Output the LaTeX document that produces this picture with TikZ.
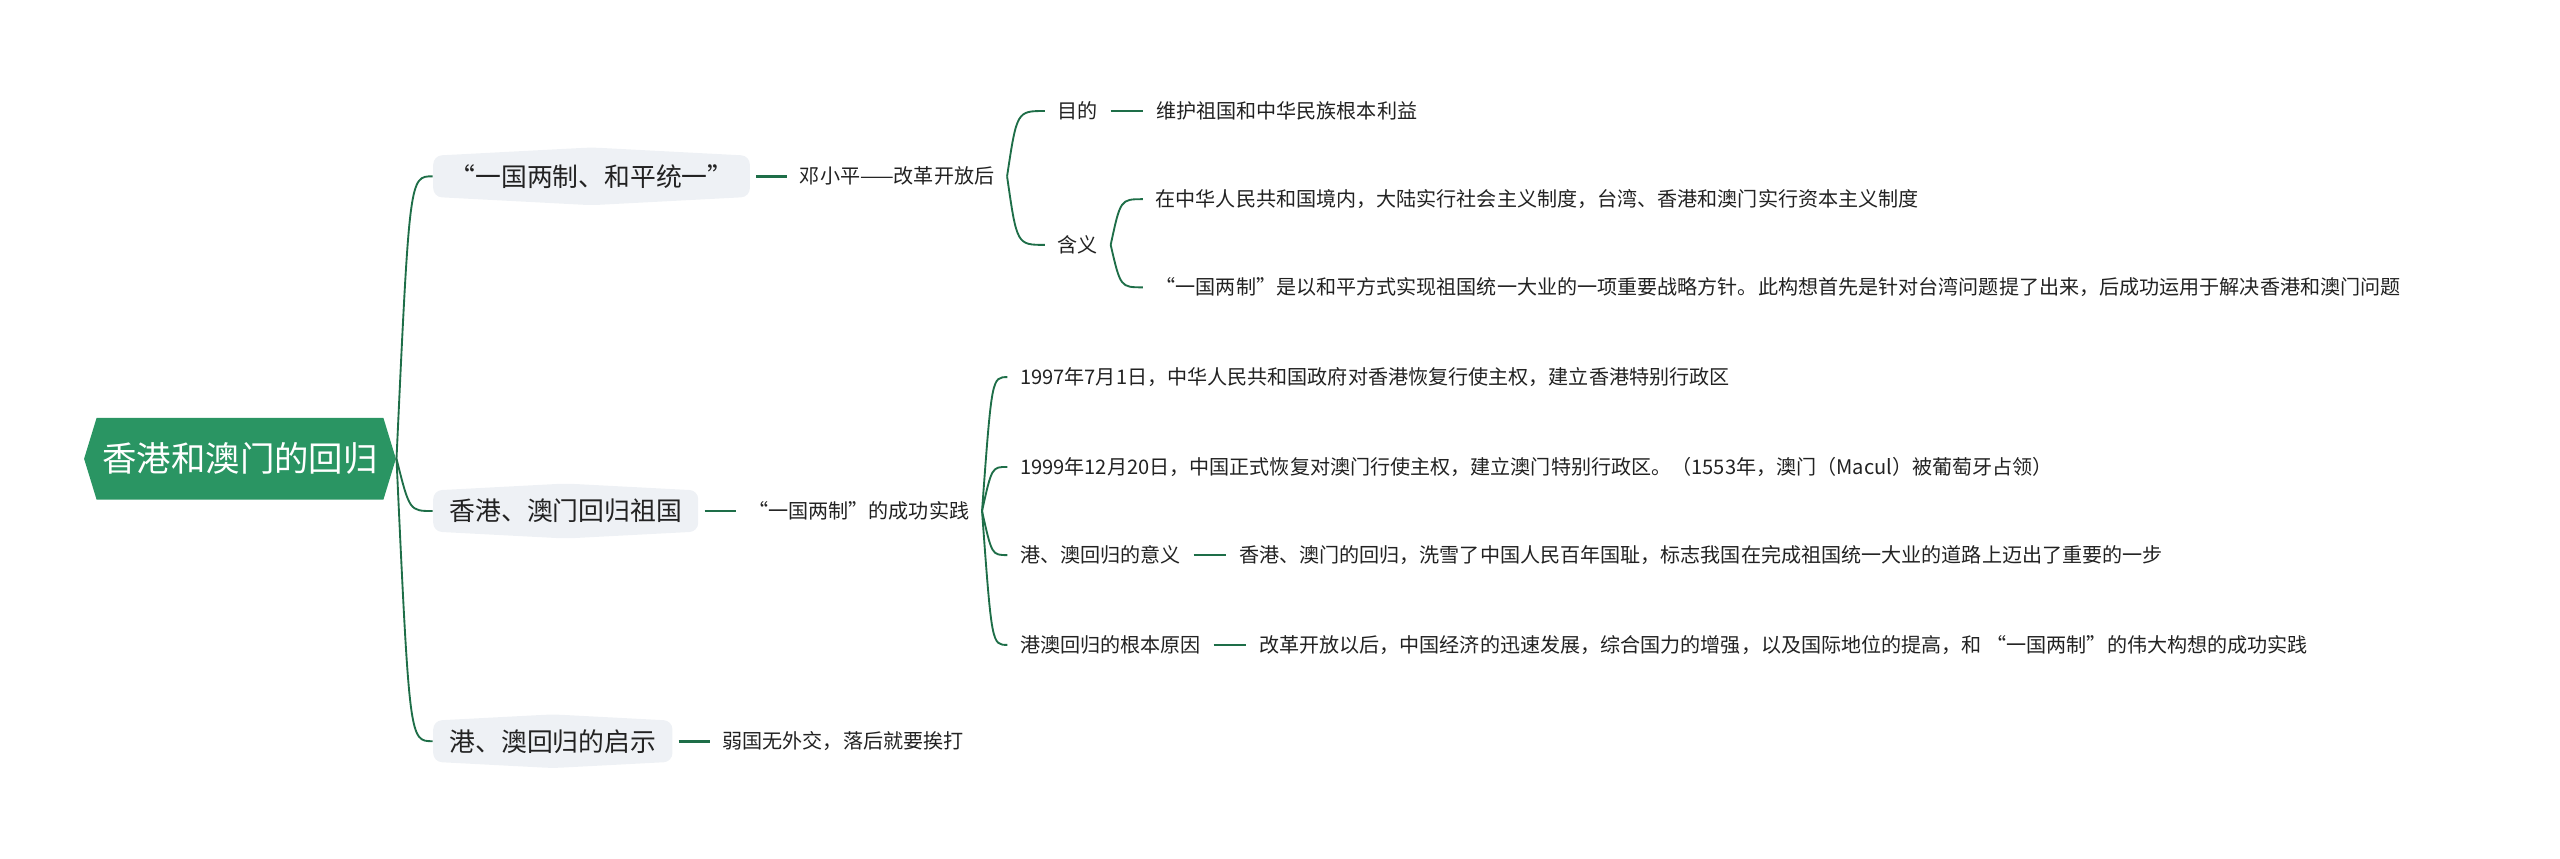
\documentclass[tikz,border=0pt]{standalone}
\usepackage{fontspec}
\setmainfont{Noto Sans CJK SC}
\usepackage{xcolor}
\usetikzlibrary{calc,positioning,shapes.symbols}
\definecolor{rootc}{HTML}{2A9563}
\definecolor{linec}{HTML}{1E6E48}
\definecolor{boxbg}{HTML}{EEF1F5}
\definecolor{txtc}{HTML}{222222}
\tikzset{
  ln/.style={linec,line width=0.65pt},
  sl/.style={linec,line width=0.9pt},
  rootnd/.style={signal,signal to=west and east,signal pointer angle=146,fill=rootc,text=white,minimum height=1cm,minimum width=3.74cm,inner xsep=2pt,font=\fontsize{12}{14}\selectfont},
  topic/.style={signal,signal to=north and south,signal pointer angle=174,rounded corners=3pt,fill=boxbg,text=txtc,minimum height=0.64cm,inner xsep=0.2cm,inner ysep=3pt,font=\fontsize{9}{11}\selectfont},
  leaf/.style={text=txtc,inner xsep=0.15cm,inner ysep=2pt,font=\fontsize{7}{8.5}\selectfont}
}
\begin{document}
\begin{tikzpicture}[x=0.02cm,y=-0.02cm]
\useasboundingbox (0,0) rectangle (1568,526);
% root and main topics
\node[rootnd] (root) at (147,281) {香港和澳门的回归};
\node[topic,anchor=west] (tpeace) at (265,108) {“一国两制、和平统一”};
\node[topic,anchor=west] (tback) at (265,313) {香港、澳门回归祖国};
\node[topic,anchor=west] (tlesson) at (265,454) {港、澳回归的启示};
\foreach \c in {tpeace,tback,tlesson}
  \draw[ln] (root.east) .. controls ($(root.east |- \c.west)+(8,0)$) .. (\c.west);
% one country two systems
\node[leaf,right=0.45cm of tpeace] (deng) {邓小平——改革开放后};
\node[leaf,anchor=west] (aim) at (640,68) {目的};
\node[leaf,right=0.4cm of aim] (aimtxt) {维护祖国和中华民族根本利益};
\node[leaf,anchor=west] (mean) at (640,150) {含义};
\node[leaf,anchor=west] (meanA) at (700,122) {在中华人民共和国境内，大陆实行社会主义制度，台湾、香港和澳门实行资本主义制度};
\node[leaf,anchor=west] (meanB) at (700,176) {“一国两制”是以和平方式实现祖国统一大业的一项重要战略方针。此构想首先是针对台湾问题提了出来，后成功运用于解决香港和澳门问题};
\draw[sl,shorten <=2pt] (tpeace.east) -- (deng.west);
\draw[sl] (aim.east) -- (aimtxt.west);
\foreach \c in {aim,mean}
  \draw[ln] (deng.east) .. controls ($(deng.east |- \c.west)+(6,0)$) .. (\c.west);
\foreach \c in {meanA,meanB}
  \draw[ln] (mean.east) .. controls ($(mean.east |- \c.west)+(6,0)$) .. (\c.west);
% return of hong kong and macao
\node[leaf,right=0.45cm of tback] (prac) {“一国两制”的成功实践};
\node[leaf,anchor=west] (hk) at (617,231) {1997年7月1日，中华人民共和国政府对香港恢复行使主权，建立香港特别行政区};
\node[leaf,anchor=west] (mo) at (617,286) {1999年12月20日，中国正式恢复对澳门行使主权，建立澳门特别行政区。（1553年，澳门（Macul）被葡萄牙占领）};
\node[leaf,anchor=west] (sig) at (617,340) {港、澳回归的意义};
\node[leaf,right=0.4cm of sig] (sigtxt) {香港、澳门的回归，洗雪了中国人民百年国耻，标志我国在完成祖国统一大业的道路上迈出了重要的一步};
\node[leaf,anchor=west] (cause) at (617,395) {港澳回归的根本原因};
\node[leaf,right=0.4cm of cause] (causetxt) {改革开放以后，中国经济的迅速发展，综合国力的增强，以及国际地位的提高，和 “一国两制”的伟大构想的成功实践};
\draw[sl,shorten <=2pt] (tback.east) -- (prac.west);
\draw[sl] (sig.east) -- (sigtxt.west);
\draw[sl] (cause.east) -- (causetxt.west);
\foreach \c in {hk,mo,sig,cause}
  \draw[ln] (prac.east) .. controls ($(prac.east |- \c.west)+(6,0)$) .. (\c.west);
% lesson
\node[leaf,right=0.45cm of tlesson] (weak) {弱国无外交，落后就要挨打};
\draw[sl,shorten <=2pt] (tlesson.east) -- (weak.west);
\end{tikzpicture}
\end{document}
